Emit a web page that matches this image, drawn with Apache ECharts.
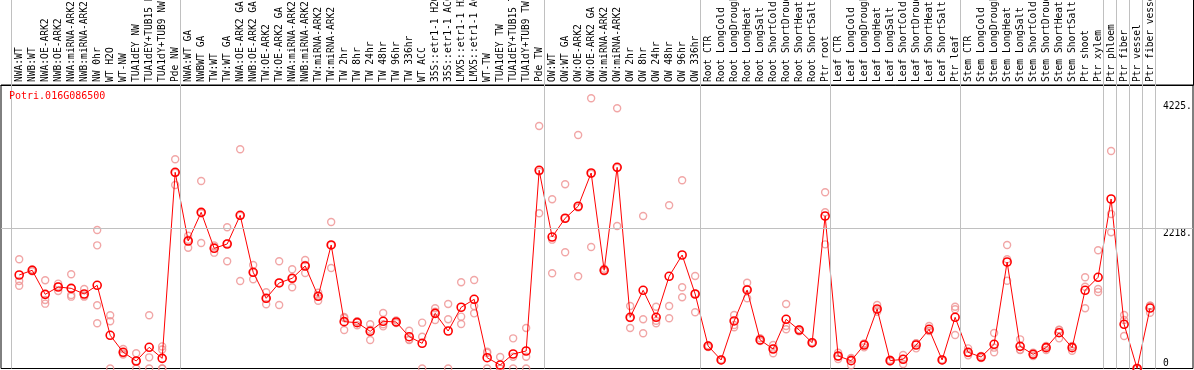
<!DOCTYPE html>
<html><head><meta charset="utf-8">
<script src="https://cdn.jsdelivr.net/npm/echarts@6/dist/echarts.min.js"></script>
<style>html,body{margin:0;padding:0;background:#fff}#c{width:1194px;height:370px}</style>
</head><body><div id="c"></div>
<script>
const categories = [
 'NWA:WT','NWB:WT','NWA:OE-ARK2','NWB:OE-ARK2','NWA:miRNA-ARK2','NWB:miRNA-ARK2','NW 0hr','WT H2O','WT-NW','TUA1dEY NW','TUA1dEY+TUB15 NW','TUA1dY+TUB9 NW','Pde NW',
 'NWA:WT GA','NWBWT GA','TW:WT','TW:WT GA','NWA:OE-ARK2 GA','NWB:OE-ARK2 GA','TW:OE-ARK2','TW:OE-ARK2 GA','NWA:miRNA-ARK2 GA','NWB:miRNA-ARK2 GA','TW:miRNA-ARK2','TW:miRNA-ARK2','TW 2hr','TW 8hr','TW 24hr','TW 48hr','TW 96hr','TW 336hr','WT ACC','35S::etr1-1 H2O','35S::etr1-1 ACC','LMX5::etr1-1 H2O','LMX5::etr1-1 ACC','WT-TW','TUA1dEY TW','TUA1dEY+TUB15 TW','TUA1dY+TUB9 TW','Pde TW',
 'OW:WT','OW:WT GA','OW:OE-ARK2','OW:OE-ARK2 GA','OW:miRNA-ARK2','OW:miRNA-ARK2','OW 2hr','OW 8hr','OW 24hr','OW 48hr','OW 96hr','OW 336hr',
 'Root CTR','Root LongCold','Root LongDrought','Root LongHeat','Root LongSalt','Root ShortCold','Root ShortDrought','Root ShortHeat','Root ShortSalt','Ptr root',
 'Leaf CTR','Leaf LongCold','Leaf LongDrought','Leaf LongHeat','Leaf LongSalt','Leaf ShortCold','Leaf ShortDrought','Leaf ShortHeat','Leaf ShortSalt','Ptr leaf',
 'Stem CTR','Stem LongCold','Stem LongDrought','Stem LongHeat','Stem LongSalt','Stem ShortCold','Stem ShortDrought','Stem ShortHeat','Stem ShortSalt','Ptr shoot','Ptr xylem',
 'Ptr phloem','Ptr fiber','Ptr vessel','Ptr fiber vessel'
];
const groupStarts = [0, 13, 41, 53, 63, 73, 84, 85, 86, 87, 88];
const means = [
 1481,1556,1175,1291,1270,1180,1318,526,257,119,336,161,3108,
 2020,2474,1904,1972,2427,1524,1112,1355,1429,1624,1144,1957,742,726,589,748,737,504,399,874,594,970,1096,171,55,230,277,3140,
 2083,2380,2570,3097,1556,3187,811,1239,811,1461,1798,1180,
 356,135,753,1244,452,309,779,610,409,2416,
 198,124,372,943,124,146,372,621,135,811,
 257,182,383,1687,351,225,330,567,330,1239,1445,
 2685,700,0,958
];
const replicates = [
 [1730,1386,1312],[1540,1560,1570],[1397,1085,1027],[1344,1228,1301],[1492,1164,1138],[1259,1154,1138],[2194,1951,1001,716],[843,748,0],[309,240,222],[241,119,0],[843,177,0],[350,300,0,0],[3314,2907,3100],
 [2104,1914,2040],[2970,1988,2460],[1930,1835,1950],[2237,1698,1980],[3473,1386,2420],[1640,1413,1520],[1207,1017,1110],[1698,1006,1360],[1572,1286,1430],[1719,1513,1640],[1201,1074,1155],[2321,1592,1957],[816,610,800],[748,684,745],[700,452,615],[879,668,700],[760,720,730],[599,452,460],[726,504,0],[954,768,900],[1022,779,0],[1366,821,705],[1402,990,874],[266,247,0],[182,0,0],[478,187,0],[642,187,0],[3842,2459,3120],
 [2681,2041,1508],[2918,1841,2380],[3699,1461,2550],[4281,1925,3085],[1580,1540,1550],[4122,2258,3180],[990,642,800],[2416,779,558],[979,757,716],[2586,990,795],[2982,1286,1128],[1465,890,1185],
 [370,340,358],[140,130,135],[848,689,653],[1359,1112,1260],[480,440,436],[372,241,315],[1022,673,621],[620,590,610],[409,400,418],[2791,2475,1967],
 [195,150,250],[166,51,155],[398,335,383],[1006,900,925],[140,110,122],[214,71,153],[398,319,399],[673,594,596],[140,130,135],[979,938,531],
 [319,208,244],[200,165,181],[562,257,330],[1957,1730,1391],[462,293,298],[252,198,225],[357,293,340],[610,478,613],[351,282,357],[1445,1296,954],[1873,1259,1212],
 [3446,2448,2158],[848,768,515],[0,0,0],[995,884,995]
];
const geneName = 'Potri.016G086500';
const yTicksTop = [2218, 4225];
const yTickLabelsTop = ['2218.', '4225.'];
const yTicksBottom = [0];
const yTickLabelsBottom = ['0'];
const yGrid = [2218];

const X_MIN = -1.4, X_MAX = 90.3, Y_MAX = 4491;
const MONO = 'DejaVu Sans Mono';
const sepLines = groupStarts.map(s => ({ xAxis: s - 0.62 }));

const chart = echarts.init(document.getElementById('c'), null, { renderer: 'canvas' });
chart.setOption({
  animation: false,
  backgroundColor: '#fff',
  title: {
    text: geneName, left: 9, top: 91, padding: 0,
    textStyle: { color: '#ff0000', fontSize: 10, fontWeight: 'normal', fontFamily: MONO }
  },
  grid: [
    { left: 1, right: 1, top: 0, height: 85, show: false, outerBoundsMode: 'none', containLabel: false },
    { left: 1, right: 1, top: 85, bottom: 1.5, show: true, borderColor: '#000', borderWidth: 1,
      backgroundColor: 'transparent', outerBoundsMode: 'none', containLabel: false }
  ],
  xAxis: [
    { gridIndex: 0, type: 'value', min: X_MIN, max: X_MAX, show: false },
    { gridIndex: 1, type: 'value', min: X_MIN, max: X_MAX, position: 'top',
      axisLine: { show: true, onZero: false, lineStyle: { color: '#000' } },
      axisTick: { show: false }, splitLine: { show: false },
      axisLabel: {
        show: true, customValues: categories.map((c, i) => i),
        formatter: v => categories[v] || '', rotate: -90, margin: 3,
        color: '#000', fontSize: 9.6, fontFamily: MONO, hideOverlap: false
      }
    }
  ],
  yAxis: [
    { gridIndex: 0, type: 'value', min: 0, max: 1, position: 'right',
      axisLine: { show: true, onZero: false, lineStyle: { color: '#000' } },
      axisTick: { show: false }, axisLabel: { show: false }, splitLine: { show: false } },
    { gridIndex: 1, type: 'value', min: 0, max: Y_MAX, position: 'right',
      axisLine: { show: false, onZero: false }, axisTick: { show: false }, splitLine: { show: false },
      axisLabel: { inside: true, margin: 30, align: 'left', verticalAlign: 'top',
        customValues: yTicksTop, formatter: v => yTickLabelsTop[yTicksTop.indexOf(v)],
        color: '#000', fontSize: 9.6, fontFamily: MONO } },
    { gridIndex: 1, type: 'value', min: 0, max: Y_MAX, position: 'right',
      axisLine: { show: false, onZero: false }, axisTick: { show: false }, splitLine: { show: false },
      axisLabel: { inside: true, margin: 30, align: 'left', verticalAlign: 'bottom',
        customValues: yTicksBottom, formatter: v => yTickLabelsBottom[yTicksBottom.indexOf(v)],
        color: '#000', fontSize: 9.6, fontFamily: MONO } }
  ],
  series: [
    { type: 'line', xAxisIndex: 0, yAxisIndex: 0, data: [], silent: true,
      markLine: { silent: true, symbol: ['none', 'none'], label: { show: false },
        lineStyle: { color: '#c0c0c0', type: 'solid', width: 1 }, data: sepLines } },
    { type: 'scatter', xAxisIndex: 1, yAxisIndex: 1, z: 3,
      data: replicates.flatMap((r, i) => r.map(v => [i, v])),
      symbol: 'circle', symbolSize: 7,
      itemStyle: { color: 'rgba(0,0,0,0)', borderColor: '#ee9090', borderWidth: 1.4 },
      markLine: { silent: true, symbol: ['none', 'none'], label: { show: false },
        lineStyle: { color: '#c0c0c0', type: 'solid', width: 1 },
        data: sepLines.concat(yGrid.map(v => ({ yAxis: v }))) } },
    { type: 'line', xAxisIndex: 1, yAxisIndex: 1, z: 4,
      data: means.map((v, i) => [i, v]),
      symbol: 'circle', symbolSize: 8, showAllSymbol: true,
      lineStyle: { color: '#ff0000', width: 1 },
      itemStyle: { color: 'rgba(0,0,0,0)', borderColor: '#ff0000', borderWidth: 1.6 } }
  ]
});
</script></body></html>
